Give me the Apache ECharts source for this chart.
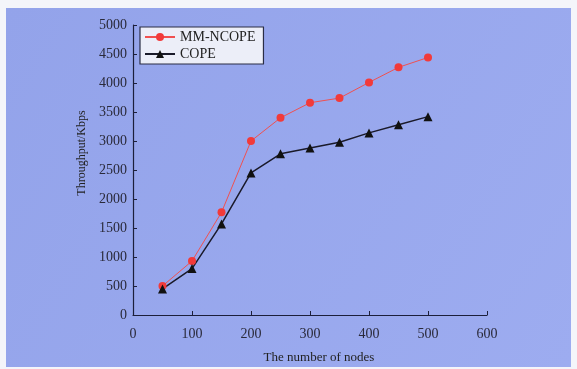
<!DOCTYPE html>
<html lang="en">
<head>
  <meta charset="UTF-8">
  <title>Throughput vs number of nodes</title>
  <script src="https://cdn.jsdelivr.net/npm/echarts@6/dist/echarts.min.js"></script>
  <style>
    html, body { margin: 0; padding: 0; background: #f4f5fa; }
    #main { width: 577px; height: 369px; }
  </style>
</head>
<body>
<div id="main"></div>
<script>
  // values
  var nodes = [50, 100, 150, 200, 250, 300, 350, 400, 450, 500];
  var mmNcope = [500, 930, 1770, 3000, 3400, 3660, 3740, 4010, 4270, 4440];
  var cope = [450, 800, 1570, 2450, 2780, 2880, 2980, 3140, 3280, 3420];

  function pairs(xs, ys) {
    return xs.map(function (x, i) { return [x, ys[i]]; });
  }
  function plain(v) {
    return String(v);
  }

  var font = '"Liberation Serif", "Times New Roman", serif';
  var dark = '#1c1f3a';

  var chart = echarts.init(document.getElementById('main'));
  chart.setOption({
    backgroundColor: '#f4f5fa',
    animation: false,
    graphic: [{
      type: 'rect',
      z: -10,
      shape: { x: 6, y: 8, width: 565, height: 359 },
      style: {
        fill: new echarts.graphic.LinearGradient(0, 0, 1, 1, [
          { offset: 0, color: '#93a3ea' },
          { offset: 1, color: '#9dacf0' }
        ])
      }
    }],
    grid: { left: 133, right: 90, top: 25, bottom: 53 },
    legend: {
      orient: 'vertical',
      left: 140,
      top: 27,
      itemWidth: 30,
      itemHeight: 10,
      itemGap: 3,
      padding: [3, 8, 3, 4],
      backgroundColor: '#eceef8',
      borderColor: '#2a2d45',
      borderWidth: 1.2,
      borderRadius: 0,
      textStyle: { fontFamily: font, fontSize: 14, color: '#222' },
      data: ['MM-NCOPE', 'COPE']
    },
    xAxis: {
      type: 'value',
      min: 0,
      max: 600,
      interval: 100,
      name: 'The number of nodes',
      nameLocation: 'middle',
      nameGap: 36,
      nameTextStyle: { fontFamily: font, fontSize: 13, color: '#222', padding: [0, 0, 0, 18] },
      axisLine: { show: true, lineStyle: { color: dark, width: 1.2 } },
      axisTick: { show: true, inside: true, length: 4, lineStyle: { color: dark } },
      axisLabel: { fontFamily: font, fontSize: 14, color: '#2a2a3a', margin: 12, formatter: plain },
      splitLine: { show: false }
    },
    yAxis: {
      type: 'value',
      min: 0,
      max: 5000,
      interval: 500,
      name: 'Throughput/Kbps',
      nameLocation: 'middle',
      nameGap: 40,
      nameTextStyle: { fontFamily: font, fontSize: 12, color: '#222', padding: [0, 0, 0, 34] },
      axisLine: { show: true, lineStyle: { color: dark, width: 1.2 } },
      axisTick: { show: true, inside: true, length: 4, lineStyle: { color: dark } },
      axisLabel: { fontFamily: font, fontSize: 14, color: '#2a2a3a', margin: 6, formatter: plain },
      splitLine: { show: false }
    },
    series: [
      {
        name: 'MM-NCOPE',
        type: 'line',
        data: pairs(nodes, mmNcope),
        symbol: 'circle',
        symbolSize: 8,
        color: '#f23a3a',
        lineStyle: { width: 1, color: '#f05050' },
        itemStyle: { color: '#f23a3a' }
      },
      {
        name: 'COPE',
        type: 'line',
        data: pairs(nodes, cope),
        symbol: 'triangle',
        symbolSize: 9,
        color: '#111',
        lineStyle: { width: 1.5, color: '#1a1a2a' },
        itemStyle: { color: '#111' }
      }
    ]
  });
</script>
</body>
</html>
